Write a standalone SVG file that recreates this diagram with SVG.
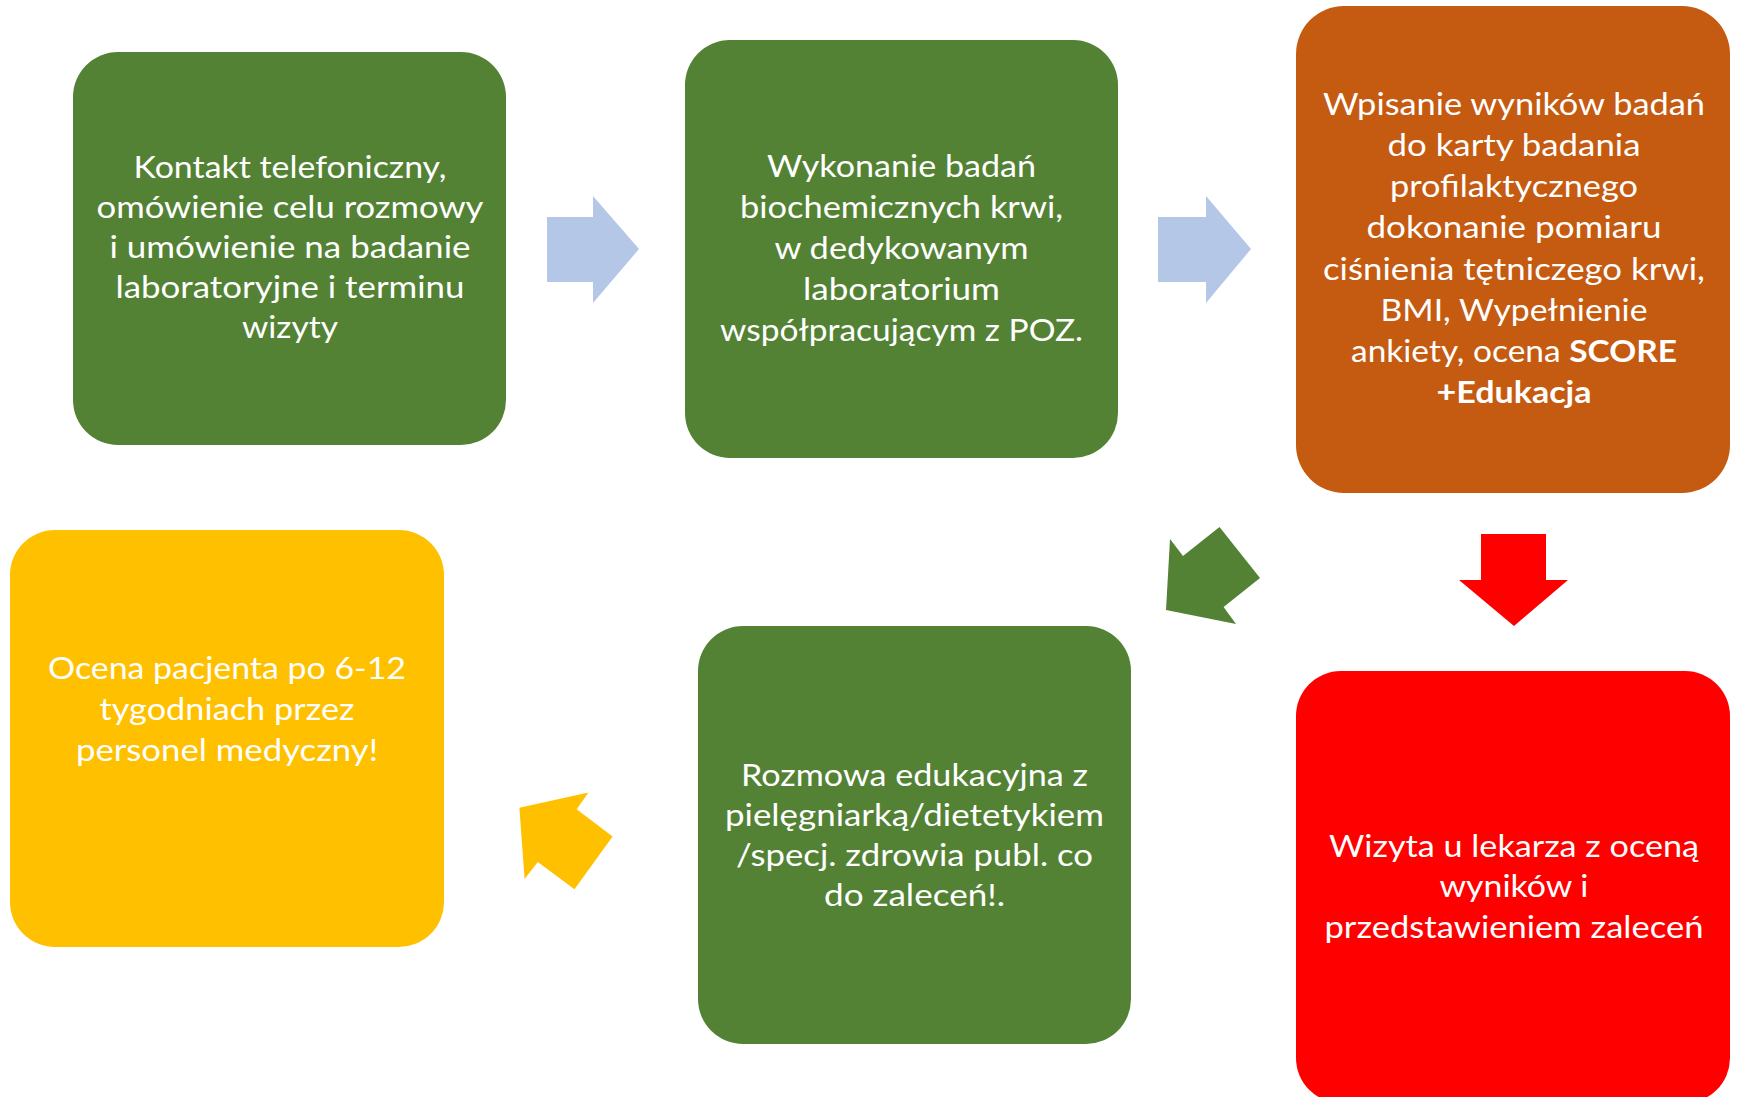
<svg xmlns="http://www.w3.org/2000/svg" width="1737" height="1097" viewBox="0 0 1737 1097">
<style>
.t{font-family:Lato,"Open Sans","Liberation Sans",sans-serif;font-size:31px;fill:#FFFFFF;text-anchor:middle}
.b{font-weight:bold}
.green{fill:#548235}
.orange{fill:#C55A11}
.red{fill:#FF0000}
.yellow{fill:#FFC000}
.blue{fill:#B4C7E7}
</style>
<rect width="1737" height="1097" fill="#FFFFFF"/>
<g id="connectors">
<polygon class="blue" points="547,217 593,217 593,196 639,249 593,303 593,282 547,282"/>
<polygon class="blue" points="1158,217 1206,217 1206,196 1251,249 1206,303 1206,282 1158,282"/>
<polygon class="red" points="1481,534 1546,534 1546,580 1568,580 1514,626 1459,580 1481,580"/>
<polygon class="green" points="1170,539 1183,556 1219.5,527 1260,578 1223.6,607 1236,624 1166,610"/>
<polygon class="yellow" points="519.4,807.7 588.4,792.5 576.7,809.2 612.6,836.6 574.5,889.2 537.8,862.1 524.6,878.9"/>
</g>
<g id="node1">
<rect class="green" x="73" y="52" width="433" height="393" rx="45" ry="45"/>
<text class="t" x="290" y="178" textLength="313" lengthAdjust="spacingAndGlyphs">Kontakt telefoniczny,</text>
<text class="t" x="290" y="218" textLength="387" lengthAdjust="spacingAndGlyphs">omówienie celu rozmowy</text>
<text class="t" x="290" y="258" textLength="361" lengthAdjust="spacingAndGlyphs">i umówienie na badanie</text>
<text class="t" x="290" y="298" textLength="349" lengthAdjust="spacingAndGlyphs">laboratoryjne i terminu</text>
<text class="t" x="290" y="338" textLength="96" lengthAdjust="spacingAndGlyphs">wizyty</text>
</g>
<g id="node2">
<rect class="green" x="685" y="40" width="433" height="418" rx="45" ry="45"/>
<text class="t" x="901.5" y="177" textLength="269" lengthAdjust="spacingAndGlyphs">Wykonanie badań</text>
<text class="t" x="901.5" y="218" textLength="323" lengthAdjust="spacingAndGlyphs">biochemicznych krwi,</text>
<text class="t" x="901.5" y="259" textLength="254" lengthAdjust="spacingAndGlyphs">w dedykowanym</text>
<text class="t" x="901.5" y="300" textLength="197" lengthAdjust="spacingAndGlyphs">laboratorium</text>
<text class="t" x="901.5" y="341" textLength="363" lengthAdjust="spacingAndGlyphs">współpracującym z POZ.</text>
</g>
<g id="node3">
<rect class="orange" x="1296" y="6" width="434" height="487" rx="48" ry="48"/>
<text class="t" x="1514" y="115" textLength="382" lengthAdjust="spacingAndGlyphs">Wpisanie wyników badań</text>
<text class="t" x="1514" y="156" textLength="253" lengthAdjust="spacingAndGlyphs">do karty badania</text>
<text class="t" x="1514" y="197" textLength="248" lengthAdjust="spacingAndGlyphs">profilaktycznego</text>
<text class="t" x="1514" y="238" textLength="295" lengthAdjust="spacingAndGlyphs">dokonanie pomiaru</text>
<text class="t" x="1514" y="280" textLength="382" lengthAdjust="spacingAndGlyphs">ciśnienia tętniczego krwi,</text>
<text class="t" x="1514" y="321" textLength="267" lengthAdjust="spacingAndGlyphs">BMI, Wypełnienie</text>
<text class="t" x="1514" y="362" textLength="326" lengthAdjust="spacingAndGlyphs">ankiety, ocena <tspan class="b">SCORE</tspan></text>
<text class="t b" x="1514" y="403" textLength="155" lengthAdjust="spacingAndGlyphs">+Edukacja</text>
</g>
<g id="node4">
<rect class="red" x="1296" y="671" width="434" height="432" rx="45" ry="45"/>
<text class="t" x="1514" y="857" textLength="370" lengthAdjust="spacingAndGlyphs">Wizyta u lekarza z oceną</text>
<text class="t" x="1514" y="897" textLength="149" lengthAdjust="spacingAndGlyphs">wyników i</text>
<text class="t" x="1514" y="938" textLength="379" lengthAdjust="spacingAndGlyphs">przedstawieniem zaleceń</text>
</g>
<g id="node5">
<rect class="green" x="698" y="626" width="433" height="418" rx="45" ry="45"/>
<text class="t" x="914.5" y="786" textLength="347" lengthAdjust="spacingAndGlyphs">Rozmowa edukacyjna z</text>
<text class="t" x="914.5" y="826" textLength="379" lengthAdjust="spacingAndGlyphs">pielęgniarką/dietetykiem</text>
<text class="t" x="914.5" y="866" textLength="357" lengthAdjust="spacingAndGlyphs">/specj. zdrowia publ. co</text>
<text class="t" x="914.5" y="906" textLength="181" lengthAdjust="spacingAndGlyphs">do zaleceń!.</text>
</g>
<g id="node6">
<rect class="yellow" x="10" y="530" width="434" height="417" rx="45" ry="45"/>
<text class="t" x="227" y="679" textLength="358" lengthAdjust="spacingAndGlyphs">Ocena pacjenta po 6-12</text>
<text class="t" x="227" y="720" textLength="255" lengthAdjust="spacingAndGlyphs">tygodniach przez</text>
<text class="t" x="227" y="761" textLength="302" lengthAdjust="spacingAndGlyphs">personel medyczny!</text>
</g>
</svg>
